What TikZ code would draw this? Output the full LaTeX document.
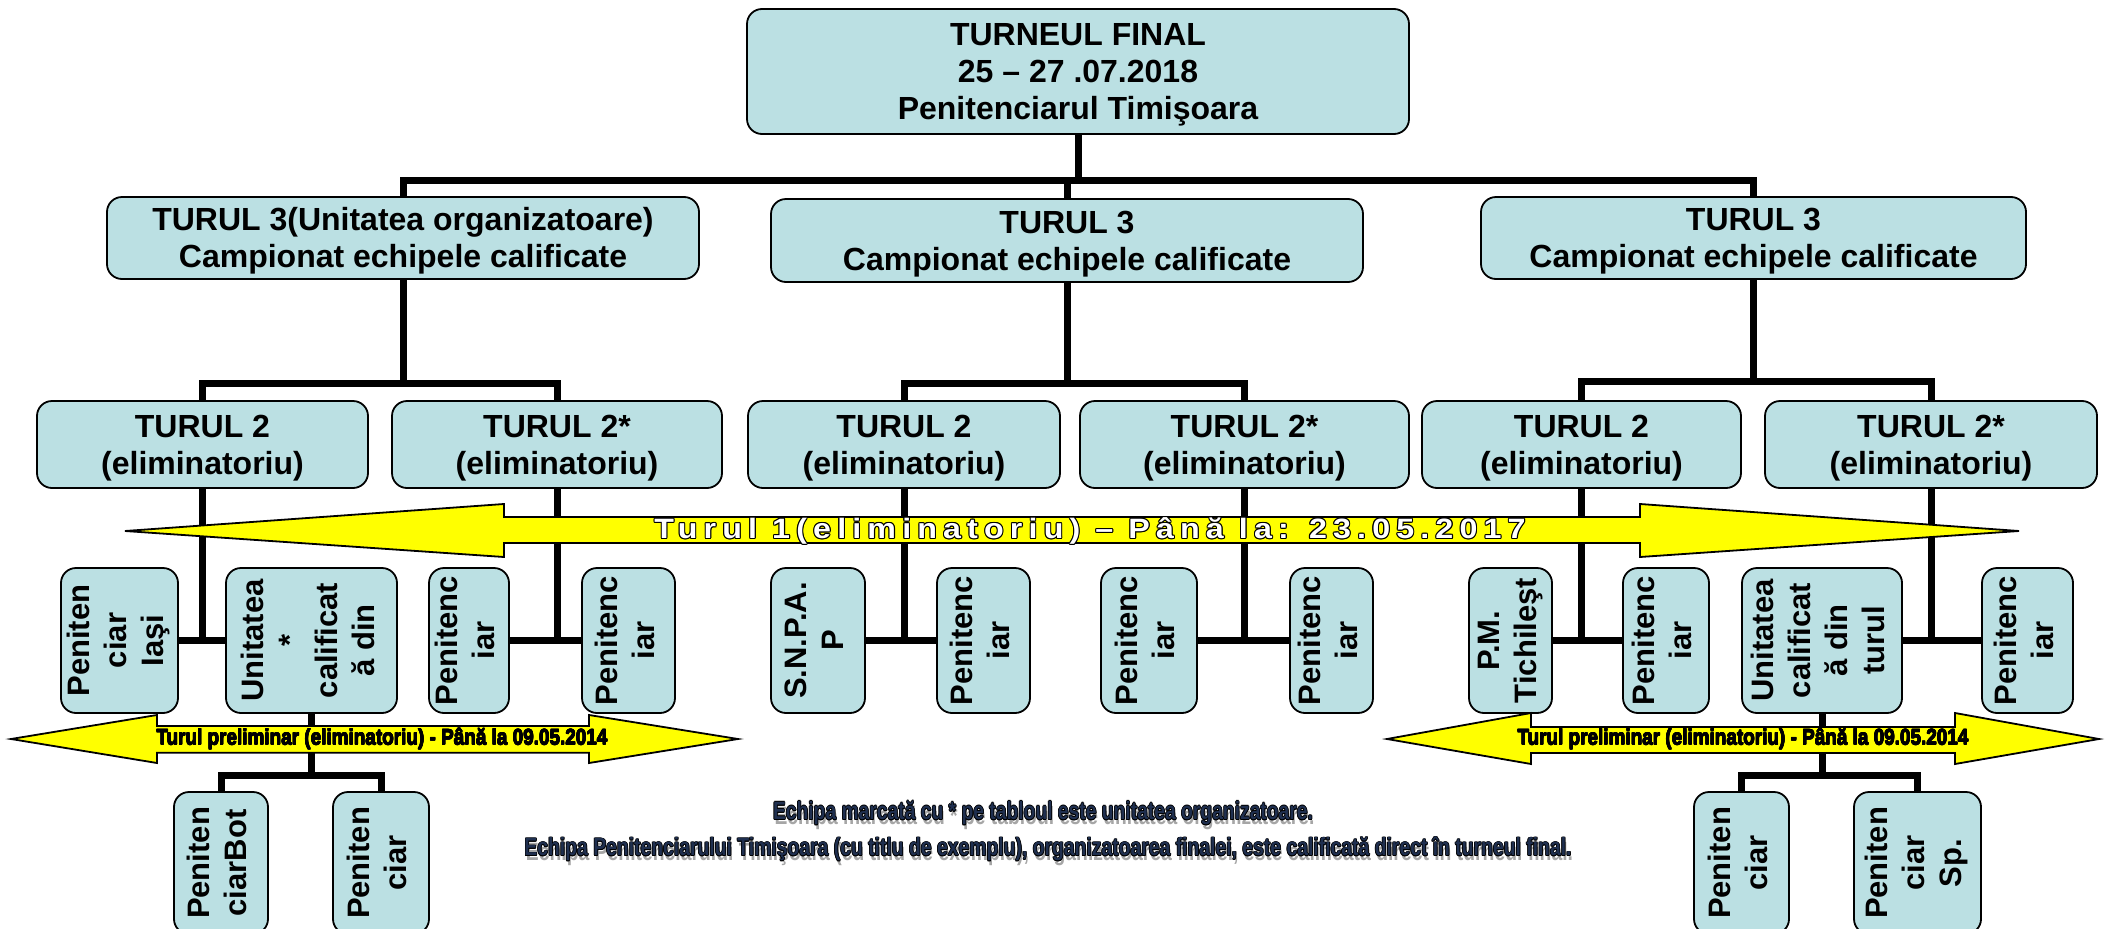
\documentclass[tikz,border=0pt]{standalone}
\usepackage{fontspec}
\setmainfont{Liberation Sans}
\usepackage{graphicx}
\usetikzlibrary{calc,backgrounds}
\definecolor{boxfill}{HTML}{BBE0E3}
\definecolor{arrowfill}{HTML}{FFFF00}
\definecolor{notefill}{HTML}{1F2F4F}
\definecolor{noteshadow}{HTML}{A6A6A6}
\newbox\olboxr
\newlength\olw
\newcommand\olcopies[1]{%
 \rlap{\color{#1}\kern\olw\copy\olboxr}%
 \rlap{\color{#1}\kern-\olw\copy\olboxr}%
 \rlap{\color{#1}\raisebox{\olw}{\copy\olboxr}}%
 \rlap{\color{#1}\raisebox{-\olw}{\copy\olboxr}}%
 \rlap{\color{#1}\kern0.7\olw\raisebox{0.7\olw}{\copy\olboxr}}%
 \rlap{\color{#1}\kern-0.7\olw\raisebox{0.7\olw}{\copy\olboxr}}%
 \rlap{\color{#1}\kern0.7\olw\raisebox{-0.7\olw}{\copy\olboxr}}%
 \rlap{\color{#1}\kern-0.7\olw\raisebox{-0.7\olw}{\copy\olboxr}}}
\newcommand\outlinetext[4]{\setlength\olw{#1}\setbox\olboxr=\hbox{#4}%
 \olcopies{#2}{\color{#3}\copy\olboxr}}
\newcommand\shadowtext[4]{\setlength\olw{#1}\setbox\olboxr=\hbox{#4}%
 \rlap{\color{noteshadow}\kern1.5pt\raisebox{-4.5pt}{\copy\olboxr}}%
 \olcopies{#2}{\color{#3}\copy\olboxr}}
\newcommand\vt[1]{\rotatebox{90}{\begin{tabular}{@{}c@{}}#1\end{tabular}}}
\newcommand\hx[1]{\raisebox{-4pt}[\height][\depth]{\begin{tabular}{@{}c@{}}#1\end{tabular}}}
\newcommand\turtext{\fontsize{28}{32}\selectfont\bfseries\addfontfeature{FakeStretch=1.15,LetterSpace=22}Turul 1(eliminatoriu) – Până la: 23.05.2017}
\newcommand\pretext{\resizebox{451pt}{\height}{\fontsize{22}{26}\selectfont\bfseries Turul preliminar (eliminatoriu) - Până la 09.05.2014}}
\newcommand\noteone{\resizebox{540pt}{\height}{\fontsize{25}{30}\selectfont\bfseries Echipa marcată cu * pe tabloul este unitatea organizatoare.}}
\newcommand\notetwo{\resizebox{1047pt}{\height}{\fontsize{25}{30}\selectfont\bfseries Echipa Penitenciarului Timişoara (cu titlu de exemplu), organizatoarea finalei, este calificată direct în turneul final.}}
\begin{document}
\begin{tikzpicture}[x=1pt,y=-1pt,
 boxbase/.style={draw=black,line width=1.8pt,fill=boxfill,rounded corners=15pt,inner sep=0pt},
 boxH/.style={boxbase,font=\fontsize{32}{37}\selectfont\bfseries},
 boxV/.style={boxbase,minimum height=145pt,font=\fontsize{31}{37}\selectfont\bfseries},
 boxL/.style={boxbase,minimum height=142pt,font=\fontsize{31}{37}\selectfont\bfseries},
 conn/.style={line width=7pt,draw=black},
 yarrow/.style={draw=black,line width=1.8pt,fill=arrowfill,line join=miter}]
\useasboundingbox (0,0) rectangle (2107,929);
% top level
\node[boxH,minimum width=662pt,minimum height=125pt] (top) at (1078,71.5) {\hx{TURNEUL FINAL\\25 – 27 .07.2018\\Penitenciarul Timişoara}};
% turul 3
\node[boxH,minimum width=592pt,minimum height=82pt] (t3a) at (403,238) {\hx{TURUL 3(Unitatea organizatoare)\\Campionat echipele calificate}};
\node[boxH,minimum width=592pt,minimum height=83pt] (t3b) at (1067,240.5) {\hx{TURUL 3\\Campionat echipele calificate}};
\node[boxH,minimum width=545pt,minimum height=82pt] (t3c) at (1753.5,238) {\hx{TURUL 3\\Campionat echipele calificate}};
% turul 2
\node[boxH,minimum width=331pt,minimum height=87pt] (t2a) at (202.5,444.5) {\hx{TURUL 2\\(eliminatoriu)}};
\node[boxH,minimum width=330pt,minimum height=87pt] (t2b) at (557,444.5) {\hx{TURUL 2*\\(eliminatoriu)}};
\node[boxH,minimum width=312pt,minimum height=87pt] (t2c) at (904,444.5) {\hx{TURUL 2\\(eliminatoriu)}};
\node[boxH,minimum width=329pt,minimum height=87pt] (t2d) at (1244.5,444.5) {\hx{TURUL 2*\\(eliminatoriu)}};
\node[boxH,minimum width=319pt,minimum height=87pt] (t2e) at (1581.5,444.5) {\hx{TURUL 2\\(eliminatoriu)}};
\node[boxH,minimum width=332pt,minimum height=87pt] (t2f) at (1931,444.5) {\hx{TURUL 2*\\(eliminatoriu)}};
% level 4
\node[boxV,minimum width=117pt] (b1) at (119.5,640.5) {\vt{Peniten\\ciar\\Iaşi}};
\node[boxV,minimum width=171pt] (b2) at (311.5,640.5) {\vt{Unitatea\\{*}\\calificat\\ă din}};
\node[boxV,minimum width=80pt] (b3) at (469,640.5) {\vt{Penitenc\\iar}};
\node[boxV,minimum width=93pt] (b4) at (628.5,640.5) {\vt{Penitenc\\iar}};
\node[boxV,minimum width=94pt] (b5) at (818,640.5) {\vt{S.N.P.A.\\P}};
\node[boxV,minimum width=93pt] (b6) at (983.5,640.5) {\vt{Penitenc\\iar}};
\node[boxV,minimum width=96pt] (b7) at (1149,640.5) {\vt{Penitenc\\iar}};
\node[boxV,minimum width=83pt] (b8) at (1331.5,640.5) {\vt{Penitenc\\iar}};
\node[boxV,minimum width=83pt] (b9) at (1510.5,640.5) {\vt{P.M.\\Tichileşt}};
\node[boxV,minimum width=86pt] (b10) at (1666,640.5) {\vt{Penitenc\\iar}};
\node[boxV,minimum width=160pt] (b11) at (1822,640.5) {\vt{Unitatea\\calificat\\ă din\\turul}};
\node[boxV,minimum width=91pt] (b12) at (2027.5,640.5) {\vt{Penitenc\\iar}};
% level 5
\node[boxL,minimum width=94pt] (c1) at (221,863) {\vt{Peniten\\ciarBot}};
\node[boxL,minimum width=96pt] (c2) at (381,863) {\vt{Peniten\\ciar}};
\node[boxL,minimum width=95pt] (c3) at (1741.5,863) {\vt{Peniten\\ciar}};
\node[boxL,minimum width=127pt] (c4) at (1917.5,863) {\vt{Peniten\\ciar\\Sp.}};
% connectors
\coordinate (busT) at (0,180);
\coordinate (bus3) at (0,383);
\coordinate (bus3r) at (0,381);
\coordinate (h4) at (0,640.5);
\coordinate (h5) at (0,775);
\begin{scope}[on background layer]
\fill[white] (0,0) rectangle (2107,929);
\draw[conn] (top.south) -- (top.south |- busT);
\draw[conn] (t3a.north) -- (t3a.north |- busT) -- (t3c.north |- busT) -- (t3c.north);
\draw[conn] (t3b.north) -- (t3b.north |- busT);
\draw[conn] (t3a.south) -- (t3a.south |- bus3);
\draw[conn] (t2a.north) -- (t2a.north |- bus3) -- (t2b.north |- bus3) -- (t2b.north);
\draw[conn] (t3b.south) -- (t3b.south |- bus3);
\draw[conn] (t2c.north) -- (t2c.north |- bus3) -- (t2d.north |- bus3) -- (t2d.north);
\draw[conn] (t3c.south) -- (t3c.south |- bus3r);
\draw[conn] (t2e.north) -- (t2e.north |- bus3r) -- (t2f.north |- bus3r) -- (t2f.north);
\draw[conn] (t2a.south) -- (t2a.south |- h4);
\draw[conn] (b1.east) -- (b2.west);
\draw[conn] (t2b.south) -- (t2b.south |- h4);
\draw[conn] (b3.east) -- (b4.west);
\draw[conn] (t2c.south) -- (t2c.south |- h4);
\draw[conn] (b5.east) -- (b6.west);
\draw[conn] (t2d.south) -- (t2d.south |- h4);
\draw[conn] (b7.east) -- (b8.west);
\draw[conn] (t2e.south) -- (t2e.south |- h4);
\draw[conn] (b9.east) -- (b10.west);
\draw[conn] (t2f.south) -- (t2f.south |- h4);
\draw[conn] (b11.east) -- (b12.west);
\draw[conn] (b2.south) -- (b2.south |- h5);
\draw[conn] (c1.north) -- (c1.north |- h5) -- (c2.north |- h5) -- (c2.north);
\draw[conn] (b11.south) -- (b11.south |- h5);
\draw[conn] (c3.north) -- (c3.north |- h5) -- (c4.north |- h5) -- (c4.north);
\end{scope}
% big arrow turul 1
\draw[yarrow] (125,531) -- (504,504) -- (504,517) -- (1640,517) -- (1640,504) -- (2019,531) -- (1640,557) -- (1640,543) -- (504,543) -- (504,557) -- cycle;
\node[inner sep=0pt] (t1txt) at (1090,531) {\outlinetext{1.1pt}{black}{white}{\turtext}};
% preliminary arrows
\draw[yarrow] (11,739) -- (157,715) -- (157,726) -- (589,726) -- (589,715) -- (738,739) -- (589,763) -- (589,752.7) -- (157,752.7) -- (157,763) -- cycle;
\node[inner sep=0pt] (preL) at (382,739) {\outlinetext{0.35pt}{black}{black}{\pretext}};
\draw[yarrow] (1387,739) -- (1531,713) -- (1531,727) -- (1955,727) -- (1955,713) -- (2099,739) -- (1955,764) -- (1955,753) -- (1531,753) -- (1531,764) -- cycle;
\node[inner sep=0pt] (preR) at (1743,739) {\outlinetext{0.35pt}{black}{black}{\pretext}};
% notes
\node[inner sep=0pt] (note1) at (1043,815) {\shadowtext{0.7pt}{black}{notefill}{\noteone}};
\node[inner sep=0pt] (note2) at (1048,851) {\shadowtext{0.7pt}{black}{notefill}{\notetwo}};
\end{tikzpicture}
\end{document}
